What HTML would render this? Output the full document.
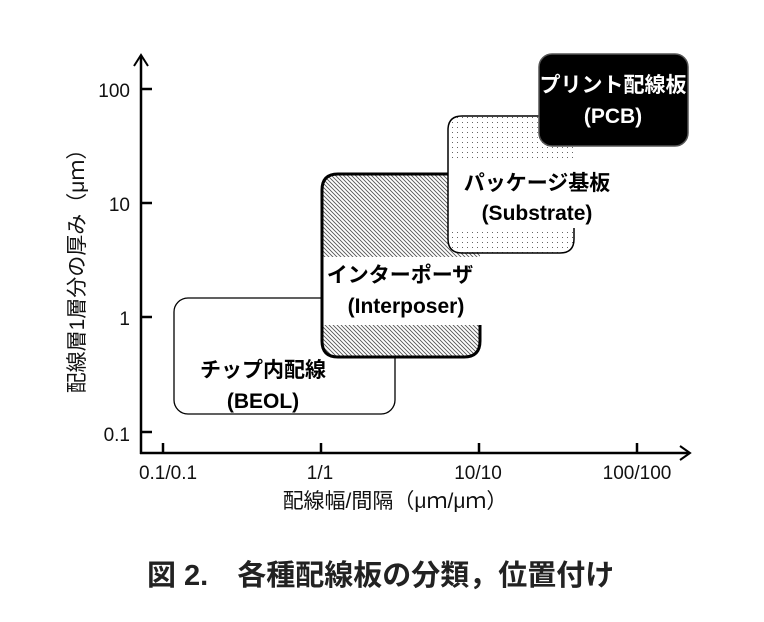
<!DOCTYPE html>
<html><head><meta charset="utf-8"><style>
html,body{margin:0;padding:0;background:#fff;}
svg{display:block;}
text{font-family:"Liberation Sans","Noto Sans CJK JP",sans-serif;}
</style></head><body>
<svg width="764" height="622" viewBox="0 0 764 622" xmlns="http://www.w3.org/2000/svg">
<defs>
<pattern id="hatch" width="4" height="4" patternUnits="userSpaceOnUse">
<rect width="4" height="4" fill="#fff"/>
<path d="M-1,-1 L5,5 M-1,3 L1,5 M3,-1 L5,1" stroke="#555" stroke-width="0.9"/>
</pattern>
<pattern id="dots" width="5" height="5" patternUnits="userSpaceOnUse">
<rect width="5" height="5" fill="#fff"/>
<rect x="2" y="2" width="1" height="1" fill="#666"/>
</pattern>
<clipPath id="ipTop"><rect x="300" y="160" width="200" height="97"/></clipPath>
<clipPath id="ipBot"><rect x="300" y="325" width="200" height="40"/></clipPath>
<clipPath id="sTop"><rect x="440" y="110" width="150" height="48"/></clipPath>
<clipPath id="sBot"><rect x="440" y="230" width="150" height="30"/></clipPath>
</defs>

<rect x="174" y="298" width="221" height="116" rx="14" fill="#fff" stroke="#000" stroke-width="1.3"/>

<rect x="322" y="174" width="158" height="183" rx="16" fill="#fff"/>
<rect x="322" y="174" width="158" height="183" rx="16" fill="url(#hatch)" clip-path="url(#ipTop)"/>
<rect x="322" y="174" width="158" height="183" rx="16" fill="url(#hatch)" clip-path="url(#ipBot)"/>
<path d="M480,325 L480,341 Q480,357 464,357 L338,357 Q322,357 322,341 L322,190 Q322,174 338,174 L460,174" fill="none" stroke="#000" stroke-width="3"/>

<rect x="448" y="116" width="126" height="137" rx="14" fill="#fff"/>
<rect x="448" y="116" width="126" height="137" rx="14" fill="url(#dots)" clip-path="url(#sTop)"/>
<rect x="448" y="116" width="126" height="137" rx="14" fill="url(#dots)" clip-path="url(#sBot)"/>
<path d="M574,228 L574,239 Q574,253 560,253 L462,253 Q448,253 448,239 L448,130 Q448,116 462,116 L545,116" fill="none" stroke="#000" stroke-width="1.5"/>

<rect x="539" y="54" width="149" height="92" rx="13" fill="#000" stroke="#555" stroke-width="1.5"/>

<line x1="141" y1="57" x2="141" y2="454" stroke="#000" stroke-width="2.5"/>
<path d="M134,66 L141,55 L148,66" fill="none" stroke="#000" stroke-width="2"/>
<line x1="140" y1="453" x2="688" y2="453" stroke="#000" stroke-width="2.5"/>
<path d="M680,446 L690,453 L680,460" fill="none" stroke="#000" stroke-width="2"/>
<g stroke="#000" stroke-width="2.5">
<line x1="141" y1="89" x2="152" y2="89"/>
<line x1="141" y1="203" x2="152" y2="203"/>
<line x1="141" y1="317" x2="152" y2="317"/>
<line x1="141" y1="432" x2="152" y2="432"/>
<line x1="163" y1="453" x2="163" y2="443"/>
<line x1="321" y1="453" x2="321" y2="443"/>
<line x1="479" y1="453" x2="479" y2="443"/>
<line x1="637" y1="453" x2="637" y2="443"/>
</g>

<g font-size="19" fill="#111" text-anchor="end">
<text x="130" y="97">100</text>
<text x="130" y="211">10</text>
<text x="130" y="325">1</text>
<text x="130" y="441">0.1</text>
</g>
<g font-size="19" fill="#111" text-anchor="middle">
<text x="168" y="479">0.1/0.1</text>
<text x="320" y="479">1/1</text>
<text x="478" y="479">10/10</text>
<text x="637" y="479">100/100</text>
</g>
<text x="395" y="508" font-size="21" fill="#111" text-anchor="middle">配線幅/間隔（μｍ/μｍ）</text>
<text transform="translate(84,266) rotate(-90)" font-size="21" fill="#111" text-anchor="middle">配線層1層分の厚み（μｍ）</text>

<g font-size="21" font-weight="bold" text-anchor="middle" fill="#000">
<text x="263" y="377">チップ内配線</text>
<text x="263" y="408">(BEOL)</text>
<text x="400" y="282">インターポーザ</text>
<text x="406" y="313">(Interposer)</text>
<text x="537" y="190">パッケージ基板</text>
<text x="537" y="220">(Substrate)</text>
<text x="613" y="92" fill="#fff">プリント配線板</text>
<text x="613" y="123" fill="#fff">(PCB)</text>
</g>

<text x="147" y="585" font-size="29" font-weight="bold" fill="#222" xml:space="preserve">図 2.　各種配線板の分類，位置付け</text>
</svg>
</body></html>
